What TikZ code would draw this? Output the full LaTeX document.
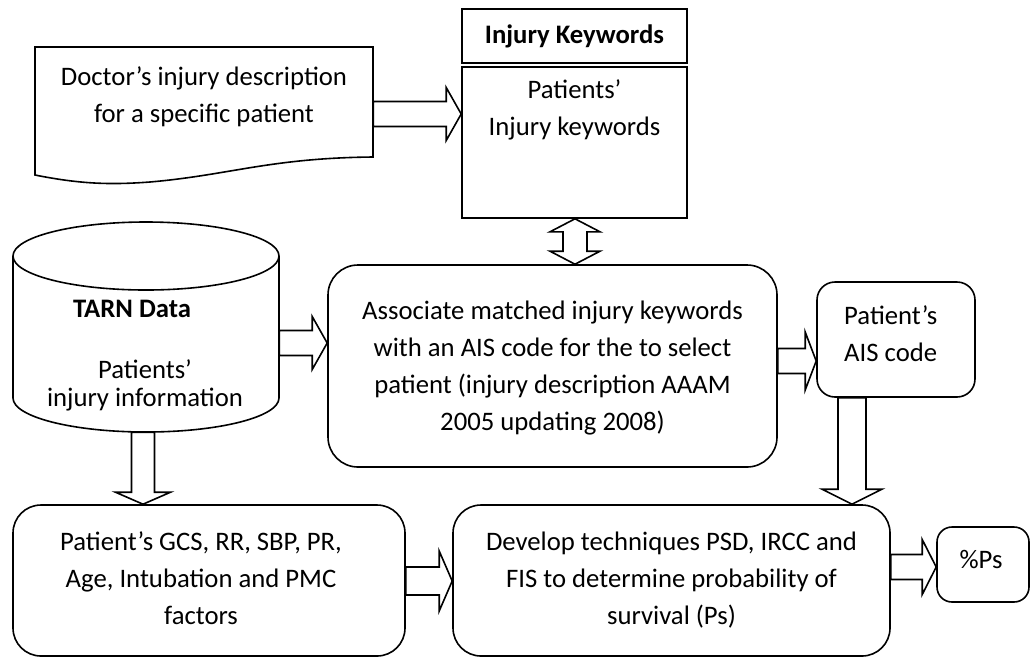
\documentclass[tikz,border=0pt]{standalone}
\usepackage{fontspec}
\setmainfont{Carlito}
\usetikzlibrary{calc}
\tikzset{
  ln/.style={draw=black, line width=1.6pt},
  rbox/.style={ln, rectangle, inner sep=0pt, rounded corners=#1},
  sbox/.style={ln, rectangle, inner sep=0pt},
  ghost/.style={rectangle, inner sep=0pt},
  blk/.style={draw=black, fill=white, line width=1.6pt, line join=miter},
  txt/.style={font=\fontsize{26.7}{37}\selectfont, align=center, inner sep=0pt},
  btxt/.style={font=\fontsize{26.7}{37}\selectfont\bfseries, align=center, inner sep=0pt}
}
% right-pointing block arrow: start, end, half shaft, half head, head length
\newcommand\rarrow[5]{\draw[blk] let \p1=(#1), \p2=(#2) in
  (\x1,\y1+#3) -- (\x2-#5,\y1+#3) -- (\x2-#5,\y1+#4) -- (\x2,\y1) --
  (\x2-#5,\y1-#4) -- (\x2-#5,\y1-#3) -- (\x1,\y1-#3) -- cycle;}
% down-pointing block arrow
\newcommand\darrow[5]{\draw[blk] let \p1=(#1), \p2=(#2) in
  (\x1-#3,\y1) -- (\x1-#3,\y2+#5) -- (\x1-#4,\y2+#5) -- (\x1,\y2) --
  (\x1+#4,\y2+#5) -- (\x1+#3,\y2+#5) -- (\x1+#3,\y1) -- cycle;}
% up-down block arrow
\newcommand\udarrow[5]{\draw[blk] let \p1=(#1), \p2=(#2) in
  (\x1,\y1) -- (\x1+#4,\y1-#5) -- (\x1+#3,\y1-#5) -- (\x1+#3,\y2+#5) --
  (\x1+#4,\y2+#5) -- (\x1,\y2) -- (\x1-#4,\y2+#5) -- (\x1-#3,\y2+#5) --
  (\x1-#3,\y1-#5) -- (\x1-#4,\y1-#5) -- cycle;}
\begin{document}
\begin{tikzpicture}[x=1pt,y=-1pt]
\useasboundingbox (0,0) rectangle (1032,657);

% document shape
\node[ghost, minimum width=338pt, minimum height=128pt] (doc) at (204,111) {};
\draw[ln, line join=miter] (35,175) -- (35,47) -- (373,47) -- (373,157)
  .. controls (270,158) and (230,175) .. (150,182)
  .. controls (110,185) and (80,184) .. (35,175) -- cycle;
\node[txt, anchor=base] (doc-t) at (204,122) {Doctor’s injury description\\for a specific patient};

% injury keywords
\node[sbox, minimum width=225pt, minimum height=54pt] (kwh) at (574.5,36) {};
\node[sbox, minimum width=225pt, minimum height=151pt] (kwb) at (574.5,142.5) {};
\node[btxt, anchor=base] (kwh-t) at (574.5,43) {Injury Keywords};
\node[txt, anchor=base] (kwb-t) at (574.5,135) {Patients’\\Injury keywords};

% cylinder
\node[ghost, minimum width=266pt, minimum height=210pt] (tarn) at (146,327) {};
\draw[ln] (13,256) -- (13,398)
  .. controls (13,416.8) and (72.5,432) .. (146,432)
  .. controls (219.5,432) and (279,416.8) .. (279,398) -- (279,256);
\draw[ln] (146,256) ellipse [x radius=133, y radius=34];
\node[btxt, anchor=base] (tarn-h) at (132,317) {TARN Data};
\node[txt, anchor=base, font=\fontsize{26.7}{28}\selectfont] (tarn-t) at (145,406) {Patients’\\injury information};

% associate box
\node[rbox=30pt, minimum width=449pt, minimum height=202pt] (assoc) at (552.5,366) {};
\node[txt, anchor=base] (assoc-t) at (552.5,430) {Associate matched injury keywords\\with an AIS code for the to select\\patient (injury description AAAM\\2005 updating 2008)};

% AIS box
\node[rbox=18pt, minimum width=158pt, minimum height=115pt] (ais) at (896,339.5) {};
\node[txt, anchor=base west, align=left] (ais-t) at (844,361) {Patient’s\\AIS code};

% GCS box
\node[rbox=28pt, minimum width=392pt, minimum height=151pt] (gcs) at (209,580.5) {};
\node[txt, anchor=base] (gcs-t) at (201,624) {Patient’s GCS, RR, SBP, PR,\\Age, Intubation and PMC\\factors};

% develop box
\node[rbox=28pt, minimum width=437pt, minimum height=151pt] (dev) at (671.5,580.5) {};
\node[txt, anchor=base] (dev-t) at (671.5,624) {Develop techniques PSD, IRCC and\\FIS to determine probability of\\survival (Ps)};

% %Ps box
\node[rbox=15pt, minimum width=92pt, minimum height=75pt] (ps) at (983,564.5) {};
\node[txt, anchor=base] (ps-t) at (981,568) {\%Ps};

% block arrows
\rarrow{doc.east |- 0,114}{kwb.west |- 0,114}{12.5}{26.5}{15}
\udarrow{kwb.south -| 575,0}{assoc.north -| 575,0}{12}{25}{13}
\rarrow{tarn.east |- 0,343}{assoc.west |- 0,343}{12.5}{26.5}{15}
\rarrow{assoc.east |- 0,361}{ais.west |- 0,361}{12.5}{29}{11}
\darrow{tarn.south -| 143,0}{gcs.north -| 143,0}{11.5}{27.5}{12}
\darrow{ais.south -| 852,0}{dev.north -| 852,0}{14}{30}{15}
\rarrow{gcs.east |- 0,581}{dev.west |- 0,581}{14}{30}{13}
\rarrow{dev.east |- 0,567}{ps.west |- 0,567}{12.5}{27.5}{14}
\end{tikzpicture}
\end{document}
